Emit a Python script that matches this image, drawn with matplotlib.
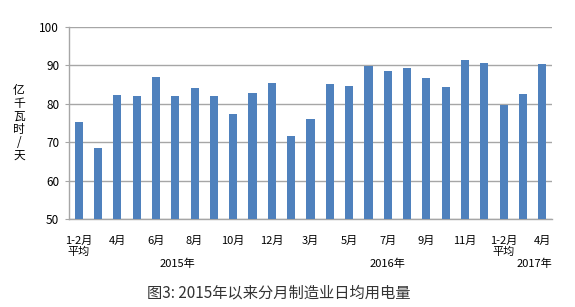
import matplotlib.pyplot as plt
import numpy as np

plt.rcParams['font.family'] = ['Noto Sans CJK SC', 'DejaVu Sans']

months = ['1-2月\n平均', '3月', '4月', '5月', '6月', '7月', '8月', '9月', '10月', '11月', '12月',
          '1-2月', '3月', '4月', '5月', '6月', '7月', '8月', '9月', '10月', '11月', '12月',
          '1-2月\n平均', '3月', '4月']
values = [75.3, 68.5, 82.4, 81.9, 86.9, 82.1, 84.2, 81.9, 77.4, 82.9, 85.4,
          71.7, 76.0, 85.2, 84.6, 89.9, 88.5, 89.4, 86.6, 84.4, 91.3,
          90.6, 79.6, 82.6, 90.4]
years = ['2015年', '2016年', '2017年']
year_pos = [5.1, 16, 23.6]

bar_color = '#4F81BD'
grid_color = '#A6A6A6'

fig = plt.figure(figsize=(5.75, 3.07), dpi=100)
ax = fig.add_axes([0.12, 0.287, 0.84, 0.625])

x = np.arange(len(values))
ax.bar(x, values, width=0.42, color=bar_color, zorder=3)

ax.set_ylim(50, 100)
ax.set_xlim(-0.5, len(values) - 0.5)
ax.set_yticks(range(50, 101, 10))
ax.yaxis.grid(True, color=grid_color, linewidth=1, zorder=0)
ax.tick_params(axis='y', length=3, color=grid_color, labelsize=8.5, pad=4)

labels = [m if i % 2 == 0 else '' for i, m in enumerate(months)]
ax.set_xticks(x)
ax.set_xticklabels(labels, fontsize=8, linespacing=1.15)
ax.tick_params(axis='x', length=0, pad=12)

for s in ['top', 'right']:
    ax.spines[s].set_visible(False)
for s in ['left', 'bottom']:
    ax.spines[s].set_color(grid_color)
    ax.spines[s].set_linewidth(1)

for yr, p in zip(years, year_pos):
    ax.text(p, -0.235, yr, transform=ax.get_xaxis_transform(),
            ha='center', va='center', fontsize=8)

fig.text(0.033, 0.6, '\n'.join('亿千瓦时/天'), ha='center', va='center',
         fontsize=8.5, linespacing=1.0)

fig.text(0.485, 0.045, '图3: 2015年以来分月制造业日均用电量', ha='center', va='center',
         fontsize=11, color='#333333')

fig.savefig('out.png', dpi=100)
